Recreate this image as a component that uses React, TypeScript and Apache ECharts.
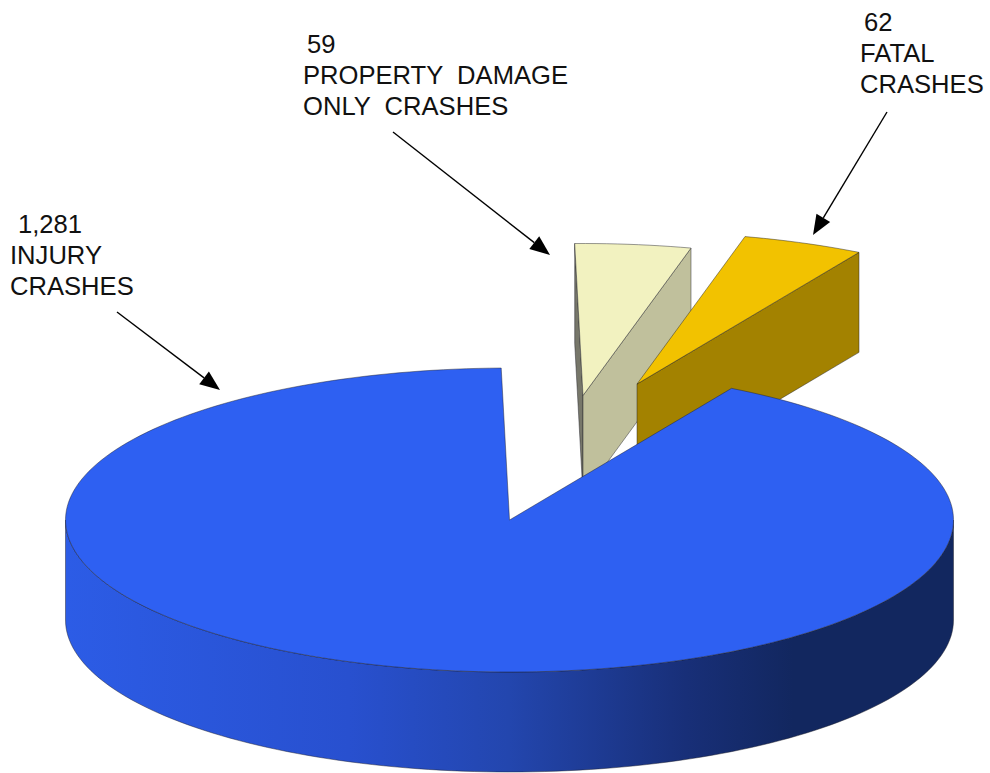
import React, { useEffect, useRef } from "react";
import * as echarts from "echarts";

// Data, in counter-clockwise order round the pie
const categories = ["FATAL CRASHES", "PROPERTY DAMAGE ONLY CRASHES", "INJURY CRASHES"];
const crashCounts = [62, 59, 1281];
const valueLabels = ["62", "59", "1,281"];
const labelLines = [["FATAL", "CRASHES"], ["PROPERTY  DAMAGE", "ONLY  CRASHES"], ["INJURY", "CRASHES"]];

// Layout and styling
const CENTER = [509.5, 520];
const RX = 444;
const RY = 152;
const DEPTH = 100;
const START_DEG = 60;
const explode = [[127.5, -136], [73.5, -124.5], [0, 0]];
const drawOrder = [2, 1, 3];
const topColors = ["#F2C200", "#F2F2C0", "#2E60F2"];
const sideColors = ["#A38200", "#C0C09C", "#2E60F2"];
const backFaceColors = ["#6E5800", "#77776A", "#1A2F70"];
const edge = "rgba(30,30,40,0.65)";
const blueWall = {
  type: "linear", x: 65, y: 0, x2: 953, y2: 0, global: true,
  colorStops: [
    { offset: 0, color: "#2C5CE6" },
    { offset: 0.32, color: "#2850CF" },
    { offset: 0.5, color: "#2346AE" },
    { offset: 0.7, color: "#182F78" },
    { offset: 0.82, color: "#12275F" },
    { offset: 1, color: "#12275F" },
  ],
};
const labelSpots = [
  { x: 864, y: 22, vx: 860, ly: 53 },
  { x: 307, y: 44, vx: 303, ly: 75 },
  { x: 18, y: 224, vx: 10, ly: 255 },
];
const arrows = [
  [[887, 112], [813, 235]],
  [[393, 132], [550, 255]],
  [[117, 312], [220, 390]],
];

const FONT = '"Liberation Sans", Arial, sans-serif';
const FONT_SIZE = 25.6;
const LINE_H = 30.5;

function rad(d: number) { return (d * Math.PI) / 180; }

function arcPoints(cx: number, cy: number, a0: number, a1: number) {
  const pts: number[][] = [];
  const n = Math.max(2, Math.ceil(Math.abs(a1 - a0) / 1.5));
  for (let i = 0; i <= n; i++) {
    const a = rad(a0 + ((a1 - a0) * i) / n);
    pts.push([cx + RX * Math.cos(a), cy - RY * Math.sin(a)]);
  }
  return pts;
}

function renderSlice(params: any, api: any) {
  const i = params.dataIndex;
  const total = crashCounts.reduce((s, v) => s + v, 0);
  let before = 0;
  for (let k = 0; k < i; k++) before += crashCounts[k];
  const a0 = START_DEG + (before / total) * 360;
  const a1 = a0 + (api.value(0) / total) * 360;
  const cx = CENTER[0] + explode[i][0];
  const cy = CENTER[1] + explode[i][1];
  const z = drawOrder[i] * 10;
  const children: any[] = [];
  const lineStyle = { stroke: edge, lineWidth: 0.7 };

  const face = (a: number, fill: string, zz: number) => {
    const p = [cx + RX * Math.cos(rad(a)), cy - RY * Math.sin(rad(a))];
    children.push({
      type: "polygon", z2: zz,
      shape: { points: [[cx, cy], p, [p[0], p[1] + DEPTH], [cx, cy + DEPTH]] },
      style: { fill, ...lineStyle },
    });
  };
  if (Math.cos(rad(a0)) > 0) face(a0, sideColors[i], z + 1);
  if (Math.cos(rad(a1)) < 0) face(a1, backFaceColors[i], z);

  // front part of the outer wall
  const from = Math.max(a0, 180);
  const to = Math.min(a1, 360);
  if (to > from) {
    const upper = arcPoints(cx, cy, from, to);
    const lower = upper.map((p) => [p[0], p[1] + DEPTH]).reverse();
    children.push({
      type: "polygon", z2: z + 1,
      shape: { points: upper.concat(lower) },
      style: { fill: blueWall, ...lineStyle },
    });
  }

  children.push({
    type: "polygon", z2: z + 2,
    shape: { points: [[cx, cy], ...arcPoints(cx, cy, a0, a1)] },
    style: { fill: topColors[i], ...lineStyle },
  });
  return { type: "group", children };
}

function arrowGraphics() {
  const out: any[] = [];
  arrows.forEach(([s, t]) => {
    const len = Math.hypot(t[0] - s[0], t[1] - s[1]);
    const ux = (t[0] - s[0]) / len;
    const uy = (t[1] - s[1]) / len;
    const bx = t[0] - ux * 20;
    const by = t[1] - uy * 20;
    out.push({
      type: "line", z: 20,
      shape: { x1: s[0], y1: s[1], x2: bx, y2: by },
      style: { stroke: "#000", lineWidth: 1.4 },
    });
    out.push({
      type: "polygon", z: 20,
      shape: { points: [t, [bx - uy * 8, by + ux * 8], [bx + uy * 8, by - ux * 8]] },
      style: { fill: "#000" },
    });
  });
  return out;
}

function labelGraphics() {
  const out: any[] = [];
  const txt = (x: number, y: number, text: string) => ({
    type: "text", z: 20, x, y,
    style: { text, fill: "#111", font: `${FONT_SIZE}px ${FONT}`, textAlign: "left", textVerticalAlign: "middle" },
  });
  categories.forEach((_, i) => {
    const s = labelSpots[i];
    out.push(txt(s.x, s.y, valueLabels[i]));
    labelLines[i].forEach((l, j) => out.push(txt(s.vx, s.ly + j * LINE_H, l)));
  });
  return out;
}

export default function App() {
  const ref = useRef<HTMLDivElement>(null);
  useEffect(() => {
    const chart = echarts.init(ref.current!, undefined, { renderer: "svg" });
    chart.setOption({
      animation: false,
      backgroundColor: "#ffffff",
      series: [
        {
          type: "custom",
          coordinateSystem: "none",
          silent: true,
          renderItem: renderSlice,
          data: categories.map((name, i) => ({ name, value: [crashCounts[i]] })),
        },
      ],
      graphic: { elements: [...arrowGraphics(), ...labelGraphics()] },
    });
    return () => chart.dispose();
  }, []);
  return <div ref={ref} style={{ position: "absolute", left: 0, top: 0, width: 990, height: 773 }} />;
}
